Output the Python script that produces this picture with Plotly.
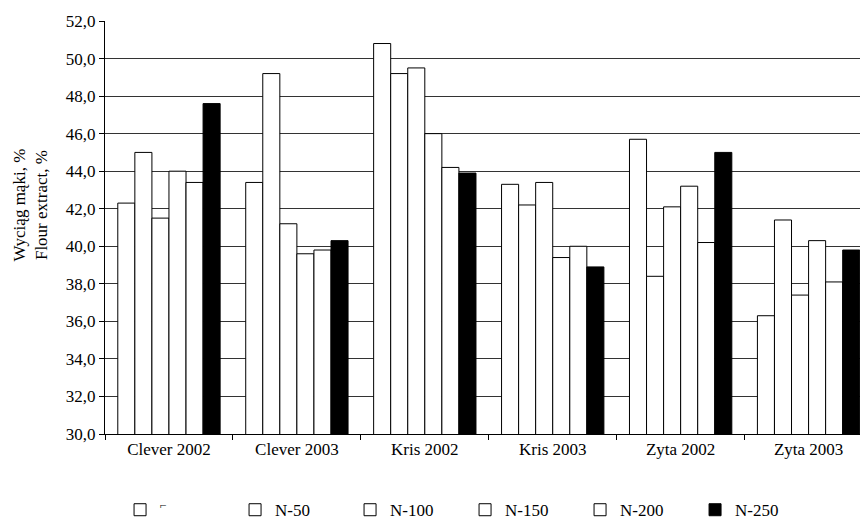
import plotly.graph_objects as go

# Cultivar / harvest-year groups on the x axis
categories = ["Clever 2002", "Clever 2003", "Kris 2002", "Kris 2003", "Zyta 2002", "Zyta 2003"]

# Nitrogen dose series (flour extract, %)
series_names = ["<sup>⌐</sup>", "N-50", "N-100", "N-150", "N-200", "N-250"]
n0 = [42.3, 43.4, 50.8, 43.3, 45.7, 36.3]
n50 = [45.0, 49.2, 49.2, 42.2, 38.4, 41.4]
n100 = [41.5, 41.2, 49.5, 43.4, 42.1, 37.4]
n150 = [44.0, 39.6, 46.0, 39.4, 43.2, 40.3]
n200 = [43.4, 39.8, 44.2, 40.0, 40.2, 38.1]
n250 = [47.6, 40.3, 43.9, 38.9, 45.0, 39.8]
series_values = [n0, n50, n100, n150, n200, n250]
fill_colors = ["white", "white", "white", "white", "white", "black"]

y_title = "Wyciąg mąki, %<br>Flour extract, %"

FONT = "Liberation Serif, Times New Roman, serif"
FS = 17

fig = go.Figure()
for name, vals, col in zip(series_names, series_values, fill_colors):
    fig.add_trace(go.Bar(
        x=categories, y=vals, name=name,
        marker=dict(color=col, line=dict(color="black", width=1)),
    ))

fig.update_layout(
    width=860, height=519,
    barmode="group", bargap=0.2, bargroupgap=0,
    separators=", ",
    plot_bgcolor="white", paper_bgcolor="white",
    margin=dict(l=105, r=0, t=21, b=85),
    font=dict(family=FONT, size=FS, color="black"),
    showlegend=True,
    legend=dict(
        orientation="h", xref="container", yref="container",
        x=0.1396, xanchor="left", y=0.017, yanchor="middle",
        entrywidth=70, entrywidthmode="pixels",
        itemwidth=30, font=dict(family=FONT, size=FS),
        bgcolor="rgba(0,0,0,0)",
    ),
    annotations=[dict(
        text=y_title, textangle=-90, showarrow=False,
        xref="paper", yref="paper", x=-0.099, y=0.554,
        xanchor="center", yanchor="middle",
        font=dict(family=FONT, size=FS),
    )],
)

fig.update_xaxes(
    type="category", range=[-0.5, 5.402],
    showline=True, linecolor="black", linewidth=1,
    ticks="outside", tickson="boundaries", ticklen=5, tickcolor="black",
    showgrid=False, tickfont=dict(family=FONT, size=FS),
)
fig.update_yaxes(
    range=[30, 52.0001], dtick=2, tick0=30, tickformat=".1f",
    showline=True, linecolor="black", linewidth=1,
    ticks="outside", ticklen=5, tickcolor="black",
    showgrid=True, gridcolor="#333333", gridwidth=1,
    zeroline=False, tickfont=dict(family=FONT, size=FS),
)

fig.write_html("out.html")
